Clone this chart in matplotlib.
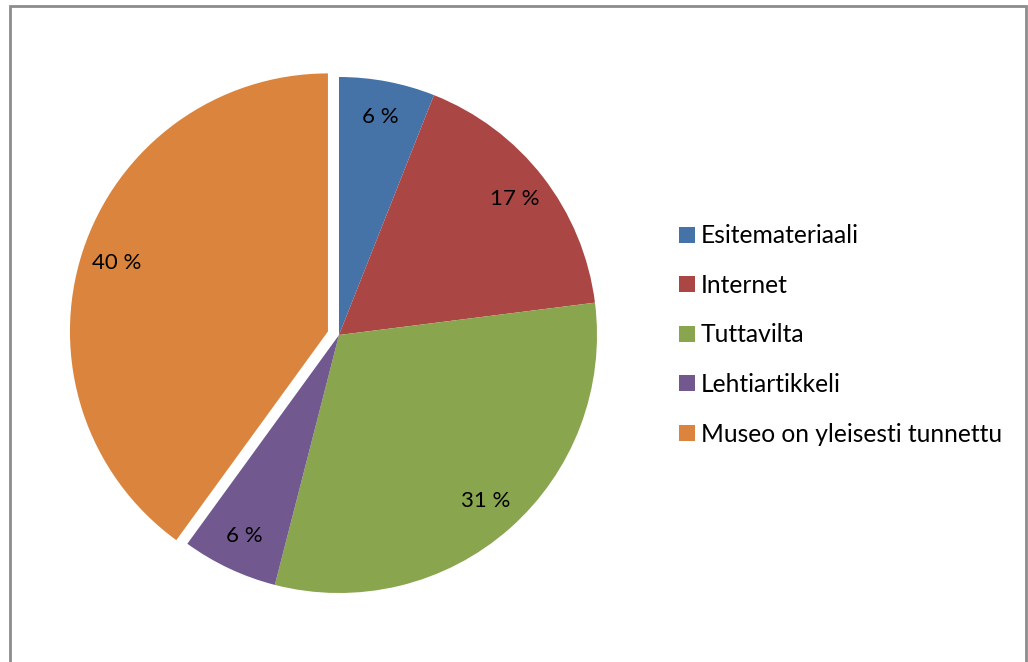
import matplotlib.pyplot as plt
from matplotlib.patches import Rectangle

plt.rcParams['font.family'] = ['Lato', 'DejaVu Sans']

labels = ['Esitemateriaali', 'Internet', 'Tuttavilta', 'Lehtiartikkeli', 'Museo on yleisesti tunnettu']
shares = [6, 17, 31, 6, 40]
colors = ['#4572a7', '#aa4643', '#89a54e', '#71588f', '#db843d']
explode = [0, 0, 0, 0, 0.045]

fig = plt.figure(figsize=(10.28, 6.62), dpi=100)

# grey chart frame
fig.patches.append(Rectangle((10 / 1028, -0.05), 1016 / 1028, 1.05 - 6 / 662,
                             transform=fig.transFigure, fill=False,
                             edgecolor='#8c8c8c', linewidth=2))

ax = fig.add_axes([81 / 1028, 69 / 662, 516 / 1028, 516 / 662])
wedges, texts, autotexts = ax.pie(shares, colors=colors, explode=explode,
                                  startangle=90, counterclock=False,
                                  autopct=lambda p: '%.0f %%' % p,
                                  pctdistance=0.86,
                                  wedgeprops=dict(linewidth=0),
                                  textprops=dict(fontsize=16, color='black'))
ax.set_xlim(-1, 1)
ax.set_ylim(-1, 1)
ax.set_aspect('equal')
for w in wedges:
    w.set_clip_on(False)

fig.legend(wedges, labels, loc='center left', bbox_to_anchor=(667 / 1028, 1 - 335 / 662),
           frameon=False, fontsize=17.7, handlelength=0.62, handleheight=0.62,
           handletextpad=0.25, labelspacing=1.08, borderpad=0)

fig.savefig('out.png', dpi=100)
